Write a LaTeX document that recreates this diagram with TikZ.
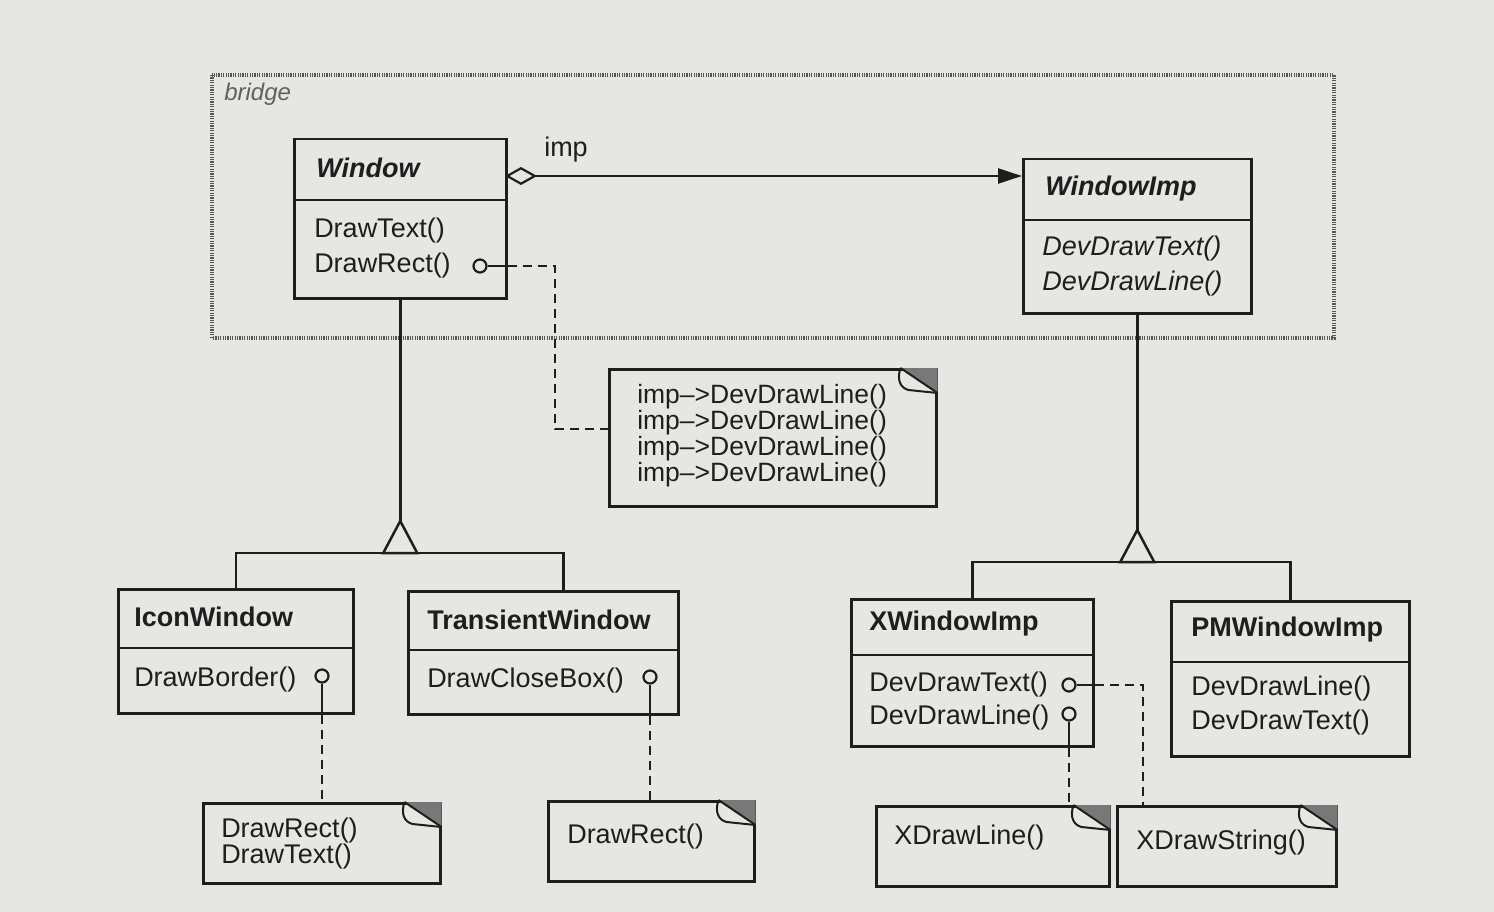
\documentclass[tikz,border=0pt]{standalone}
\usepackage{fontspec}
\setmainfont{Liberation Sans}
\usetikzlibrary{arrows.meta}
\definecolor{paper}{HTML}{E6E6E3}
\definecolor{ink}{HTML}{1E1E1E}
\newcommand\dogear[1]{%
  \fill[ink!60] ([xshift=-37pt]#1.north east) -- (#1.north east) -- ([yshift=-25pt]#1.north east) -- cycle;
  \draw[line width=2pt] ([xshift=-37pt]#1.north east) -- ([yshift=-25pt]#1.north east);
  \draw[line width=2pt] ([xshift=-37pt]#1.north east) .. controls +(-4pt,-12pt) and +(-8pt,2pt) .. ([xshift=-29pt,yshift=-22pt]#1.north east) -- ([yshift=-25pt]#1.north east);
}
\begin{document}
\begin{tikzpicture}[x=1pt,y=-1pt,color=ink,line width=2.5pt,
  box/.style={draw, rectangle, inner sep=0pt, anchor=north west},
  txt/.style={inner sep=0pt, anchor=west, font=\fontsize{27}{27}\selectfont},
  nm/.style={inner sep=0pt, anchor=west, font=\fontsize{27}{27}\selectfont\bfseries},
  nmi/.style={inner sep=0pt, anchor=west, font=\fontsize{27}{27}\selectfont\bfseries\itshape},
  mti/.style={inner sep=0pt, anchor=west, font=\fontsize{27}{27}\selectfont\itshape},
  pin/.style={draw, circle, inner sep=0pt, minimum size=13pt, line width=2.2pt},
  dsh/.style={line width=2.2pt, dash pattern=on 9pt off 6pt},
  framed/.style={draw=ink!75, line width=3.5pt, dash pattern=on 1.2pt off 1.2pt}]
% background
\fill[paper] (0,0) rectangle (1494,912);
% bridge frame
\draw[framed] (212,75) rectangle (1334,338);
\node[inner sep=0pt, anchor=west, text=ink!70, font=\fontsize{24}{24}\selectfont\itshape] (lbl) at (223,94) {bridge};

% Window
\node[box, minimum width=212pt, minimum height=159pt] (win) at (293,138) {};
\draw (win.west |- 0,200) -- (win.east |- 0,200);
\node[nmi] (winn) at (315,168) {Window};
\node[txt] (winm1) at (313,231) {DrawText()};
\node[txt] (winm2) at (313,266) {DrawRect()};
\node[pin] (c1) at (480,266) {};

% WindowImp
\node[box, minimum width=228pt, minimum height=154pt] (wi) at (1022,158) {};
\draw (wi.west |- 0,220) -- (wi.east |- 0,220);
\node[nmi] (win2) at (1044,189) {WindowImp};
\node[mti] (wim1) at (1041,249) {DevDrawText()};
\node[mti] (wim2) at (1041,284) {DevDrawLine()};

% imp association
\coordinate (ia) at (505,176);
\coordinate (ib) at (1022,176);
\draw[{Diamond[open,length=32pt,width=18pt,line width=2.2pt]}-{Triangle[length=24pt,width=15pt]}] (ia) -- (ib);
\node[txt] (imp) at (543,150) {imp};

% note 1
\node[box, minimum width=327pt, minimum height=137pt] (n1) at (608,368) {};
\dogear{n1}
\node[txt, align=left, font=\fontsize{26.5}{26}\selectfont] (n1t) at (636,436) {imp–>DevDrawLine()\\imp–>DevDrawLine()\\imp–>DevDrawLine()\\imp–>DevDrawLine()};
\draw[line width=2.2pt] (c1.east) -- (win.east |- c1.east);
\draw[dsh] (win.east |- c1.east) -- (555,266) |- ([yshift=9pt]n1.west);

% IconWindow
\node[box, minimum width=235pt, minimum height=124pt] (iw) at (117,588) {};
\draw (iw.west |- 0,648) -- (iw.east |- 0,648);
\node[nm] (iwn) at (133,617) {IconWindow};
\node[txt] (iwm) at (133,680) {DrawBorder()};
\node[pin] (c2) at (322,676) {};

% TransientWindow
\node[box, minimum width=270pt, minimum height=123pt] (tw) at (407,590) {};
\draw (tw.west |- 0,650) -- (tw.east |- 0,650);
\node[nm] (twn) at (426,620) {TransientWindow};
\node[txt] (twm) at (426,681) {DrawCloseBox()};
\node[pin] (c3) at (650,677) {};

% generalization Window
\coordinate (t1) at (win.south |- 0,521);
\coordinate (b1) at (win.south |- 0,553);
\draw (win.south) -- (t1);
\draw[line join=miter] (t1) -- ++(-17,32) -- ++(34,0) -- cycle;
\draw (iw.north) |- (b1) -| ([xshift=20pt]tw.north);

% notes under Window subclasses
\node[box, minimum width=237pt, minimum height=80pt] (n2) at (202,802) {};
\dogear{n2}
\node[txt, align=left, font=\fontsize{27}{26}\selectfont] (n2t) at (220,844) {DrawRect()\\DrawText()};
\node[box, minimum width=206pt, minimum height=80pt] (n3) at (547,800) {};
\dogear{n3}
\node[txt] (n3t) at (566,837) {DrawRect()};
\draw[line width=2.2pt] (c2.south) -- (c2 |- iw.south);
\draw[dsh] (c2 |- iw.south) -- (c2 |- n2.north);
\draw[line width=2.2pt] (c3.south) -- (c3 |- tw.south);
\draw[dsh] (c3 |- tw.south) -- (c3 |- n3.north);

% XWindowImp
\node[box, minimum width=242pt, minimum height=147pt] (xw) at (850,598) {};
\draw (xw.west |- 0,655) -- (xw.east |- 0,655);
\node[nm] (xwn) at (868,624) {XWindowImp};
\node[txt] (xwm1) at (868,685) {DevDrawText()};
\node[txt] (xwm2) at (868,718) {DevDrawLine()};
\node[pin] (c4) at (1069,685) {};
\node[pin] (c5) at (1069,714) {};

% PMWindowImp
\node[box, minimum width=238pt, minimum height=155pt] (pw) at (1170,600) {};
\draw (pw.west |- 0,662) -- (pw.east |- 0,662);
\node[nm] (pwn) at (1190,630) {PMWindowImp};
\node[txt] (pwm1) at (1190,689) {DevDrawLine()};
\node[txt] (pwm2) at (1190,723) {DevDrawText()};

% generalization WindowImp
\coordinate (t2) at (wi.south |- 0,530);
\coordinate (b2) at (wi.south |- 0,562);
\draw (wi.south) -- (t2);
\draw[line join=miter] (t2) -- ++(-17,32) -- ++(34,0) -- cycle;
\draw (xw.north) |- (b2) -| (pw.north);

% notes under XWindowImp
\node[box, minimum width=233pt, minimum height=80pt] (n4) at (875,805) {};
\dogear{n4}
\node[txt] (n4t) at (893,838) {XDrawLine()};
\node[box, minimum width=219pt, minimum height=80pt] (n5) at (1116,805) {};
\dogear{n5}
\node[txt] (n5t) at (1135,843) {XDrawString()};
\draw[line width=2.2pt] (c4.east) -- (xw.east |- c4.east);
\draw[dsh] (xw.east |- c4.east) -| ([xshift=27pt]n5.north west);
\draw[line width=2.2pt] (c5.south) -- (c5 |- xw.south);
\draw[dsh] (c5 |- xw.south) -- (c5 |- n4.north);
\end{tikzpicture}
\end{document}
